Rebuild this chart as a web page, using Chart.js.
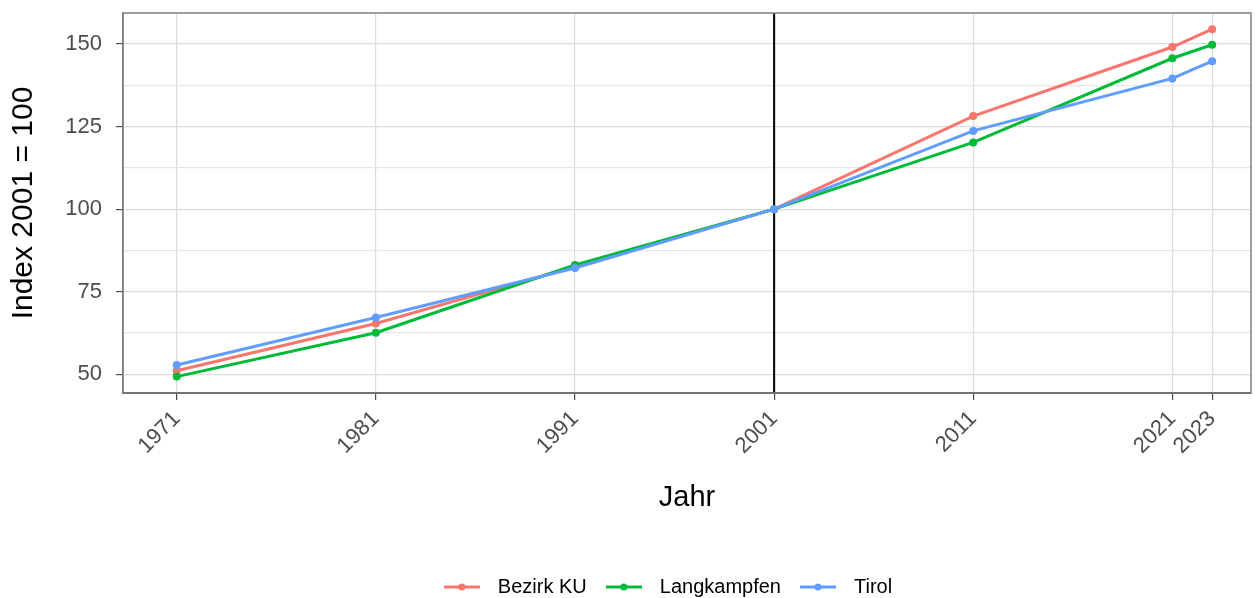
<!DOCTYPE html>
<html lang="de">
<head>
  <meta charset="UTF-8">
  <title>Index 2001 = 100 — Bezirk KU, Langkampfen, Tirol</title>
  <script src="https://cdn.jsdelivr.net/npm/chart.js"></script>
  <style>
    body { margin: 0; background: #fff; }
    #wrap { width: 1255px; height: 598px; }
  </style>
</head>
<body>
  <div id="wrap"><canvas id="chart" width="1255" height="598"></canvas></div>
  <script>
    // data
    const years = [1971, 1981, 1991, 2001, 2011, 2021, 2023];
    const bezirkKU = [51.1, 65.4, 82.6, 100, 128.2, 149.1, 154.5];
    const langkampfen = [49.3, 62.6, 83.1, 100, 120.2, 145.7, 149.8];
    const tirol = [52.8, 67.2, 82.2, 100, 123.7, 139.6, 144.8];
    const seriesNames = ['Bezirk KU', 'Langkampfen', 'Tirol'];
    const seriesColors = ['#F8766D', '#00BA38', '#619CFF'];
    const yLabels = [50, 75, 100, 125, 150];
    const yGrid = [50, 62.5, 75, 87.5, 100, 112.5, 125, 137.5, 150];
    const refYear = 2001;

    Chart.defaults.font.family = "'Liberation Sans', Arial, sans-serif";

    // little line-with-dot symbol for the legend
    function legendSymbol(color) {
      const c = document.createElement('canvas');
      c.width = 36; c.height = 10;
      const g = c.getContext('2d');
      g.strokeStyle = color; g.lineWidth = 3;
      g.beginPath(); g.moveTo(0, 5); g.lineTo(36, 5); g.stroke();
      g.fillStyle = color;
      g.beginPath(); g.arc(18, 5, 3.5, 0, Math.PI * 2); g.fill();
      return c;
    }

    const extras = {
      id: 'extras',
      afterLayout(chart) {
        chart.legend.left += 37;
        chart.legend.right += 37;
      },
      beforeDatasetsDraw(chart) {
        const { ctx, chartArea: a, scales: { x } } = chart;
        const px = x.getPixelForValue(refYear);
        ctx.save();
        ctx.strokeStyle = '#000';
        ctx.lineWidth = 2;
        ctx.beginPath();
        ctx.moveTo(px, a.top);
        ctx.lineTo(px, a.bottom);
        ctx.stroke();
        ctx.restore();
      },
      afterDatasetsDraw(chart) {
        const { ctx, chartArea: a } = chart;
        ctx.save();
        ctx.strokeStyle = '#7f7f7f';
        ctx.lineWidth = 1.5;
        ctx.strokeRect(a.left, a.top, a.right - a.left, a.bottom - a.top);
        ctx.restore();
      }
    };

    const allSeries = [bezirkKU, langkampfen, tirol];
    const datasets = allSeries.map((vals, i) => ({
      label: seriesNames[i],
      data: years.map((yr, j) => ({ x: yr, y: vals[j] })),
      borderColor: seriesColors[i],
      backgroundColor: seriesColors[i],
      borderWidth: 3,
      pointRadius: 4,
      pointBorderWidth: 0,
      order: allSeries.length - i
    }));

    new Chart(document.getElementById('chart'), {
      type: 'line',
      data: { datasets },
      plugins: [extras],
      options: {
        responsive: false,
        animation: false,
        layout: { padding: { top: 13, right: 1, left: 0, bottom: 0 } },
        plugins: {
          tooltip: { enabled: false },
          legend: {
            position: 'bottom',
            maxHeight: 32,
            labels: {
              color: '#000',
              font: { size: 20 },
              usePointStyle: true,
              pointStyleWidth: 52,
              padding: 11,
              generateLabels: chart => chart.data.datasets.map((d, i) => ({
                text: d.label,
                pointStyle: legendSymbol(d.borderColor),
                fillStyle: d.borderColor,
                strokeStyle: d.borderColor,
                lineWidth: 0,
                fontColor: '#000',
                datasetIndex: i
              }))
            }
          }
        },
        scales: {
          x: {
            type: 'linear',
            min: 1968.3,
            max: 2024.95,
            afterBuildTicks: s => { s.ticks = years.map(v => ({ value: v })); },
            afterFit: s => { s.height = 173; s.paddingLeft = 0; s.paddingRight = 0; },
            ticks: {
              color: '#4d4d4d',
              font: { size: 22 },
              minRotation: 45,
              maxRotation: 45,
              padding: 6,
              callback: v => String(v)
            },
            grid: { color: '#dcdcdc', lineWidth: 1.2, tickLength: 7, tickColor: '#4d4d4d' },
            border: { color: '#4d4d4d', width: 2 },
            title: {
              display: true,
              text: 'Jahr',
              color: '#000',
              font: { size: 29 },
              padding: { top: 0, bottom: 51 }
            }
          },
          y: {
            min: 44.34,
            max: 159.4,
            afterBuildTicks: s => { s.ticks = yGrid.map(v => ({ value: v })); },
            afterFit: s => { s.width = 123; s.paddingTop = 0; s.paddingBottom = 0; },
            ticks: {
              color: '#4d4d4d',
              font: { size: 22 },
              padding: 14,
              callback: v => yLabels.includes(v) ? String(v) : ''
            },
            grid: {
              color: ctx => yLabels.includes(ctx.tick && ctx.tick.value) ? '#dcdcdc' : '#e6e6e6',
              lineWidth: 1.2,
              tickLength: 7,
              tickColor: ctx => yLabels.includes(ctx.tick && ctx.tick.value) ? '#4d4d4d' : 'rgba(0,0,0,0)'
            },
            border: { color: '#7f7f7f', width: 1.5 },
            title: {
              display: true,
              text: 'Index 2001 = 100',
              color: '#000',
              font: { size: 30 },
              padding: { top: 6, bottom: 0 }
            }
          }
        }
      }
    });
  </script>
</body>
</html>
